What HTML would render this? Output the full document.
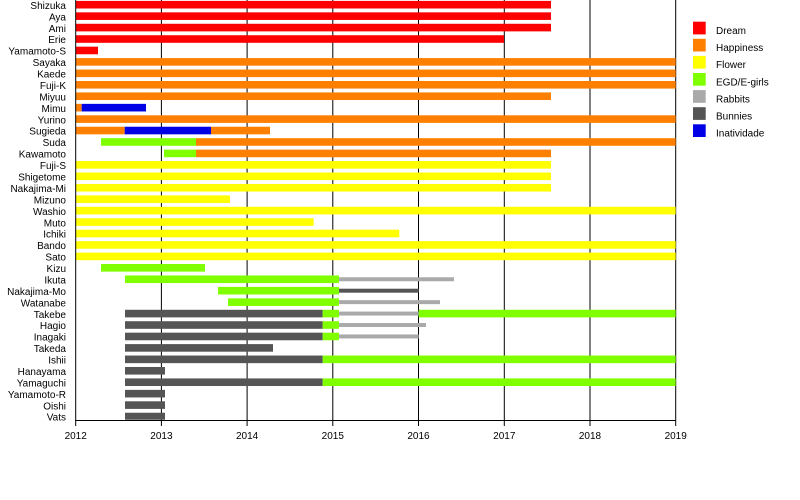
<!DOCTYPE html>
<html>
<head>
<meta charset="utf-8">
<style>
  html,body{margin:0;padding:0;background:#fff;}
  svg{display:block;}
  text{font-family:"Liberation Sans", Arial, sans-serif;font-size:10px;fill:#000;}
</style>
</head>
<body>
<svg width="800" height="500" viewBox="0 0 800 500" xmlns="http://www.w3.org/2000/svg">
  <rect x="0" y="0" width="800" height="500" fill="#fff"/>
  <!-- gridlines -->
  <g stroke="#000" stroke-width="1">
    <line x1="161.4" y1="0" x2="161.4" y2="420"/>
    <line x1="247.1" y1="0" x2="247.1" y2="420"/>
    <line x1="332.8" y1="0" x2="332.8" y2="420"/>
    <line x1="418.5" y1="0" x2="418.5" y2="420"/>
    <line x1="504.3" y1="0" x2="504.3" y2="420"/>
    <line x1="590.0" y1="0" x2="590.0" y2="420"/>
    <line x1="675.7" y1="0" x2="675.7" y2="420"/>
  </g>
  <!-- bars -->
  <g id="bars">
    <!-- 0 Shizuka -->
    <rect x="75.7" y="0.9" width="475.3" height="7.6" fill="#ff0000"/>
    <!-- 1 Aya -->
    <rect x="75.7" y="12.34" width="475.3" height="7.6" fill="#ff0000"/>
    <!-- 2 Ami -->
    <rect x="75.7" y="23.78" width="475.3" height="7.6" fill="#ff0000"/>
    <!-- 3 Erie -->
    <rect x="75.7" y="35.22" width="428.3" height="7.6" fill="#ff0000"/>
    <!-- 4 Yamamoto-S -->
    <rect x="75.7" y="46.66" width="22.3" height="7.6" fill="#ff0000"/>
    <!-- 5 Sayaka -->
    <rect x="75.7" y="58.1" width="600" height="7.6" fill="#ff8000"/>
    <!-- 6 Kaede -->
    <rect x="75.7" y="69.54" width="600" height="7.6" fill="#ff8000"/>
    <!-- 7 Fuji-K -->
    <rect x="75.7" y="80.98" width="600" height="7.6" fill="#ff8000"/>
    <!-- 8 Miyuu -->
    <rect x="75.7" y="92.42" width="475.3" height="7.6" fill="#ff8000"/>
    <!-- 9 Mimu -->
    <rect x="75.7" y="103.86" width="6" height="7.6" fill="#ff8000"/>
    <rect x="81.7" y="103.86" width="64.3" height="7.6" fill="#0000e6"/>
    <!-- 10 Yurino -->
    <rect x="75.7" y="115.3" width="600" height="7.6" fill="#ff8000"/>
    <!-- 11 Sugieda -->
    <rect x="75.7" y="126.74" width="49" height="7.6" fill="#ff8000"/>
    <rect x="124.7" y="126.74" width="86.3" height="7.6" fill="#0000e6"/>
    <rect x="211" y="126.74" width="59" height="7.6" fill="#ff8000"/>
    <!-- 12 Suda -->
    <rect x="101" y="138.18" width="95" height="7.6" fill="#80ff00"/>
    <rect x="196" y="138.18" width="479.7" height="7.6" fill="#ff8000"/>
    <!-- 13 Kawamoto -->
    <rect x="164" y="149.62" width="32" height="7.6" fill="#80ff00"/>
    <rect x="196" y="149.62" width="355" height="7.6" fill="#ff8000"/>
    <!-- 14 Fuji-S -->
    <rect x="75.7" y="161.06" width="475.3" height="7.6" fill="#ffff00"/>
    <!-- 15 Shigetome -->
    <rect x="75.7" y="172.5" width="475.3" height="7.6" fill="#ffff00"/>
    <!-- 16 Nakajima-Mi -->
    <rect x="75.7" y="183.94" width="475.3" height="7.6" fill="#ffff00"/>
    <!-- 17 Mizuno -->
    <rect x="75.7" y="195.38" width="154.3" height="7.6" fill="#ffff00"/>
    <!-- 18 Washio -->
    <rect x="75.7" y="206.82" width="600" height="7.6" fill="#ffff00"/>
    <!-- 19 Muto -->
    <rect x="75.7" y="218.26" width="238" height="7.6" fill="#ffff00"/>
    <!-- 20 Ichiki -->
    <rect x="75.7" y="229.7" width="323.6" height="7.6" fill="#ffff00"/>
    <!-- 21 Bando -->
    <rect x="75.7" y="241.14" width="600" height="7.6" fill="#ffff00"/>
    <!-- 22 Sato -->
    <rect x="75.7" y="252.58" width="600" height="7.6" fill="#ffff00"/>
    <!-- 23 Kizu -->
    <rect x="101" y="264.02" width="104" height="7.6" fill="#80ff00"/>
    <!-- 24 Ikuta -->
    <rect x="125" y="275.46" width="214" height="7.6" fill="#80ff00"/>
    <rect x="339" y="277.26" width="115" height="4" fill="#aaaaaa"/>
    <!-- 25 Nakajima-Mo -->
    <rect x="218" y="286.9" width="121" height="7.6" fill="#80ff00"/>
    <rect x="339" y="288.7" width="79.7" height="4" fill="#555555"/>
    <!-- 26 Watanabe -->
    <rect x="228" y="298.34" width="111" height="7.6" fill="#80ff00"/>
    <rect x="339" y="300.14" width="101" height="4" fill="#aaaaaa"/>
    <!-- 27 Takebe -->
    <rect x="125" y="309.78" width="197.7" height="7.6" fill="#555555"/>
    <rect x="322.7" y="309.78" width="16.3" height="7.6" fill="#80ff00"/>
    <rect x="339" y="311.58" width="79.7" height="4" fill="#aaaaaa"/>
    <rect x="418.7" y="309.78" width="257" height="7.6" fill="#80ff00"/>
    <!-- 28 Hagio -->
    <rect x="125" y="321.22" width="197.7" height="7.6" fill="#555555"/>
    <rect x="322.7" y="321.22" width="16.3" height="7.6" fill="#80ff00"/>
    <rect x="339" y="323.02" width="87" height="4" fill="#aaaaaa"/>
    <!-- 29 Inagaki -->
    <rect x="125" y="332.66" width="197.7" height="7.6" fill="#555555"/>
    <rect x="322.7" y="332.66" width="16.3" height="7.6" fill="#80ff00"/>
    <rect x="339" y="334.46" width="79.7" height="4" fill="#aaaaaa"/>
    <!-- 30 Takeda -->
    <rect x="125" y="344.1" width="148" height="7.6" fill="#555555"/>
    <!-- 31 Ishii -->
    <rect x="125" y="355.54" width="197.7" height="7.6" fill="#555555"/>
    <rect x="322.7" y="355.54" width="353" height="7.6" fill="#80ff00"/>
    <!-- 32 Hanayama -->
    <rect x="125" y="366.98" width="40" height="7.6" fill="#555555"/>
    <!-- 33 Yamaguchi -->
    <rect x="125" y="378.42" width="197.7" height="7.6" fill="#555555"/>
    <rect x="322.7" y="378.42" width="353" height="7.6" fill="#80ff00"/>
    <!-- 34 Yamamoto-R -->
    <rect x="125" y="389.86" width="40" height="7.6" fill="#555555"/>
    <!-- 35 Oishi -->
    <rect x="125" y="401.3" width="40" height="7.6" fill="#555555"/>
    <!-- 36 Vats -->
    <rect x="125" y="412.74" width="40" height="7.0" fill="#555555"/>
  </g>
  <!-- axes -->
  <g stroke="#000" stroke-width="1">
    <line x1="75.7" y1="0" x2="75.7" y2="420.5"/>
    <line x1="75.2" y1="420.5" x2="676.2" y2="420.5"/>
    <line x1="75.7" y1="420.5" x2="75.7" y2="426"/>
    <line x1="161.4" y1="420.5" x2="161.4" y2="426"/>
    <line x1="247.1" y1="420.5" x2="247.1" y2="426"/>
    <line x1="332.8" y1="420.5" x2="332.8" y2="426"/>
    <line x1="418.5" y1="420.5" x2="418.5" y2="426"/>
    <line x1="504.3" y1="420.5" x2="504.3" y2="426"/>
    <line x1="590.0" y1="420.5" x2="590.0" y2="426"/>
    <line x1="675.7" y1="420.5" x2="675.7" y2="426"/>
  </g>
  <!-- x tick labels -->
  <g text-anchor="middle">
    <text x="75.7" y="439">2012</text>
    <text x="161.4" y="439">2013</text>
    <text x="247.1" y="439">2014</text>
    <text x="332.8" y="439">2015</text>
    <text x="418.5" y="439">2016</text>
    <text x="504.3" y="439">2017</text>
    <text x="590.0" y="439">2018</text>
    <text x="675.7" y="439">2019</text>
  </g>
  <!-- row labels -->
  <g text-anchor="end">
    <text x="66" y="8.9">Shizuka</text>
    <text x="66" y="20.34">Aya</text>
    <text x="66" y="31.78">Ami</text>
    <text x="66" y="43.22">Erie</text>
    <text x="66" y="54.66">Yamamoto-S</text>
    <text x="66" y="66.1">Sayaka</text>
    <text x="66" y="77.54">Kaede</text>
    <text x="66" y="88.98">Fuji-K</text>
    <text x="66" y="100.42">Miyuu</text>
    <text x="66" y="111.86">Mimu</text>
    <text x="66" y="123.3">Yurino</text>
    <text x="66" y="134.74">Sugieda</text>
    <text x="66" y="146.18">Suda</text>
    <text x="66" y="157.62">Kawamoto</text>
    <text x="66" y="169.06">Fuji-S</text>
    <text x="66" y="180.5">Shigetome</text>
    <text x="66" y="191.94">Nakajima-Mi</text>
    <text x="66" y="203.38">Mizuno</text>
    <text x="66" y="214.82">Washio</text>
    <text x="66" y="226.26">Muto</text>
    <text x="66" y="237.7">Ichiki</text>
    <text x="66" y="249.14">Bando</text>
    <text x="66" y="260.58">Sato</text>
    <text x="66" y="272.02">Kizu</text>
    <text x="66" y="283.46">Ikuta</text>
    <text x="66" y="294.9">Nakajima-Mo</text>
    <text x="66" y="306.34">Watanabe</text>
    <text x="66" y="317.78">Takebe</text>
    <text x="66" y="329.22">Hagio</text>
    <text x="66" y="340.66">Inagaki</text>
    <text x="66" y="352.1">Takeda</text>
    <text x="66" y="363.54">Ishii</text>
    <text x="66" y="374.98">Hanayama</text>
    <text x="66" y="386.42">Yamaguchi</text>
    <text x="66" y="397.86">Yamamoto-R</text>
    <text x="66" y="409.3">Oishi</text>
    <text x="66" y="420.74">Vats</text>
  </g>
  <!-- legend -->
  <g>
    <rect x="693" y="21.7" width="12.7" height="12.7" fill="#ff0000"/>
    <text x="716" y="34">Dream</text>
    <rect x="693" y="38.8" width="12.7" height="12.7" fill="#ff8000"/>
    <text x="716" y="51.1">Happiness</text>
    <rect x="693" y="55.9" width="12.7" height="12.7" fill="#ffff00"/>
    <text x="716" y="68.2">Flower</text>
    <rect x="693" y="73" width="12.7" height="12.7" fill="#80ff00"/>
    <text x="716" y="85.3">EGD/E-girls</text>
    <rect x="693" y="90.1" width="12.7" height="12.7" fill="#aaaaaa"/>
    <text x="716" y="102.4">Rabbits</text>
    <rect x="693" y="107.2" width="12.7" height="12.7" fill="#555555"/>
    <text x="716" y="119.5">Bunnies</text>
    <rect x="693" y="124.3" width="12.7" height="12.7" fill="#0000e6"/>
    <text x="716" y="136.6">Inatividade</text>
  </g>
</svg>
</body>
</html>
